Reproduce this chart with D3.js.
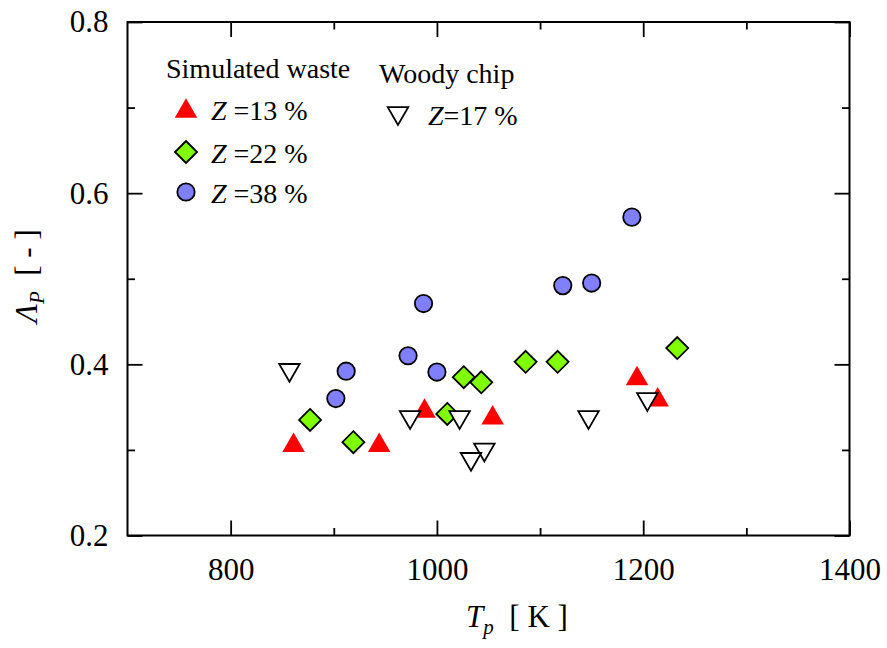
<!DOCTYPE html>
<html>
<head>
<meta charset="utf-8">
<script src="https://cdn.jsdelivr.net/npm/d3@7"></script>
<style>
  html, body { margin: 0; padding: 0; background: #fff; }
  svg { display: block; }
</style>
</head>
<body>
<svg id="chart" width="887" height="648"></svg>
<script>
// Particle temperature T_p [K] vs. Λ_P [-]
const wasteZ13T = [861, 944, 988, 1054, 1194, 1214];
const wasteZ13L = [0.309, 0.309, 0.349, 0.341, 0.387, 0.362];

const wasteZ22T = [877, 919, 1010, 1026, 1043, 1086, 1117, 1233];
const wasteZ22L = [0.335, 0.309, 0.342, 0.385, 0.379, 0.403, 0.403, 0.419];

const wasteZ38T = [902, 912, 972, 987, 1000, 1122, 1150, 1189];
const wasteZ38L = [0.360, 0.392, 0.410, 0.471, 0.391, 0.492, 0.495, 0.572];

const woodZ17T = [857, 974, 1022, 1046, 1033, 1147, 1204];
const woodZ17L = [0.390, 0.335, 0.335, 0.297, 0.286, 0.335, 0.356];

const xMajor = [800, 1000, 1200, 1400];
const xMinor = [900, 1100, 1300];
const yMajor = [0.2, 0.4, 0.6, 0.8];
const yMinor = [0.3, 0.5, 0.7];

const SERIF = "'Liberation Serif', 'Times New Roman', Tinos, 'DejaVu Serif', serif";

const svg = d3.select("#chart");
const plotL = 127.5, plotR = 849.5, plotT = 22, plotB = 535.5;

const x = d3.scaleLinear().domain([700, 1400]).range([plotL, plotR]);
const y = d3.scaleLinear().domain([0.2, 0.8]).range([plotB, plotT]);

// symbol shapes (centred on their bounding box)
function triUp(w) { const h = w * 0.866; return `M0,${-h/2}L${w/2},${h/2}L${-w/2},${h/2}Z`; }
function triDown(w) { const h = w * 0.866; return `M0,${h/2}L${w/2},${-h/2}L${-w/2},${-h/2}Z`; }
function diamond(r) { return `M0,${-r}L${r},0L0,${r}L${-r},0Z`; }

const series = [
  { T: wasteZ13T, L: wasteZ13L, d: triUp(22.5), fill: "#ff0000", stroke: "none" },
  { T: wasteZ22T, L: wasteZ22L, d: diamond(11), fill: "#80ff00", stroke: "#000" },
  { T: wasteZ38T, L: wasteZ38L, d: null, fill: "#8080ff", stroke: "#000" },
  { T: woodZ17T, L: woodZ17L, d: triDown(20.5), fill: "#fff", stroke: "#000" }
];

// axes: inward ticks on all four sides
const tickFont = 31;
function styleAxis(g) {
  g.attr("font-family", null).attr("font-size", null);
  g.select(".domain").remove();
  g.selectAll(".tick line").attr("stroke", "#000").attr("stroke-width", 1.8);
  g.selectAll("text").style("font-size", tickFont + "px")
    .style("font-family", SERIF).attr("fill", "#000");
}
const fmtY = d3.format(".1f");

svg.append("g").attr("transform", `translate(0,${plotB})`)
  .call(d3.axisBottom(x).tickValues(xMajor).tickSizeInner(-15).tickSizeOuter(0).tickPadding(22.5).tickFormat(d3.format("d")))
  .call(styleAxis);
svg.append("g").attr("transform", `translate(0,${plotB})`)
  .call(d3.axisBottom(x).tickValues(xMinor).tickSizeInner(-7.5).tickSizeOuter(0).tickFormat(""))
  .call(styleAxis);
svg.append("g").attr("transform", `translate(0,${plotT})`)
  .call(d3.axisTop(x).tickValues(xMajor).tickSizeInner(-15).tickSizeOuter(0).tickFormat(""))
  .call(styleAxis);
svg.append("g").attr("transform", `translate(0,${plotT})`)
  .call(d3.axisTop(x).tickValues(xMinor).tickSizeInner(-7.5).tickSizeOuter(0).tickFormat(""))
  .call(styleAxis);

svg.append("g").attr("transform", `translate(${plotL},0)`)
  .call(d3.axisLeft(y).tickValues(yMajor).tickSizeInner(-15).tickSizeOuter(0).tickPadding(19).tickFormat(fmtY))
  .call(styleAxis);
svg.append("g").attr("transform", `translate(${plotL},0)`)
  .call(d3.axisLeft(y).tickValues(yMinor).tickSizeInner(-7.5).tickSizeOuter(0).tickFormat(""))
  .call(styleAxis);
svg.append("g").attr("transform", `translate(${plotR},0)`)
  .call(d3.axisRight(y).tickValues(yMajor).tickSizeInner(-15).tickSizeOuter(0).tickFormat(""))
  .call(styleAxis);
svg.append("g").attr("transform", `translate(${plotR},0)`)
  .call(d3.axisRight(y).tickValues(yMinor).tickSizeInner(-7.5).tickSizeOuter(0).tickFormat(""))
  .call(styleAxis);

// frame
svg.append("rect")
  .attr("x", plotL).attr("y", plotT)
  .attr("width", plotR - plotL).attr("height", plotB - plotT)
  .attr("fill", "none").attr("stroke", "#000").attr("stroke-width", 2);

// data points
series.forEach(s => {
  const pts = s.T.map((t, i) => ({ t, l: s.L[i] }));
  const g = svg.append("g");
  if (s.d === null) {
    g.selectAll("circle").data(pts).join("circle")
      .attr("cx", p => x(p.t)).attr("cy", p => y(p.l)).attr("r", 8.7)
      .attr("fill", s.fill).attr("stroke", s.stroke).attr("stroke-width", 1.8);
  } else {
    g.selectAll("path").data(pts).join("path")
      .attr("d", s.d)
      .attr("transform", p => `translate(${x(p.t)},${y(p.l)})`)
      .attr("fill", s.fill).attr("stroke", s.stroke).attr("stroke-width", 1.8)
      .attr("stroke-linejoin", "miter");
  }
});

function label(xp, yp, size) {
  return svg.append("text").attr("x", xp).attr("y", yp)
    .style("font-family", SERIF).style("font-size", size + "px").attr("fill", "#000")
    .attr("xml:space", "preserve");
}

// legend
const legFont = 28;
label(166, 78, legFont).text("Simulated waste");
label(379, 83, legFont).text("Woody chip");

const legendRows = [
  { s: series[0], mx: 186, my: 108, tx: 211, ty: 120, z: " =13 %" },
  { s: series[1], mx: 186, my: 152, tx: 211, ty: 163, z: " =22 %" },
  { s: series[2], mx: 186, my: 192, tx: 211, ty: 203, z: " =38 %" },
  { s: series[3], mx: 398, my: 116, tx: 428, ty: 125, z: "=17 %" }
];
legendRows.forEach(r => {
  if (r.s.d === null) {
    svg.append("circle").attr("cx", r.mx).attr("cy", r.my).attr("r", 8.7)
      .attr("fill", r.s.fill).attr("stroke", r.s.stroke).attr("stroke-width", 1.8);
  } else {
    svg.append("path").attr("d", r.s.d).attr("transform", `translate(${r.mx},${r.my})`)
      .attr("fill", r.s.fill).attr("stroke", r.s.stroke).attr("stroke-width", 1.8);
  }
  const t = label(r.tx, r.ty, legFont);
  t.append("tspan").style("font-style", "italic").text("Z");
  t.append("tspan").text(r.z);
});

// axis titles
const xt = label(517, 627, 31).attr("text-anchor", "middle");
xt.append("tspan").style("font-style", "italic").text("T");
xt.append("tspan").style("font-style", "italic").style("font-size", "21px").attr("dy", 7).text("p");
xt.append("tspan").attr("dy", -7).text("  [ K ]");

const yt = label(0, 0, 31).attr("transform", "translate(37,276) rotate(-90)").attr("text-anchor", "middle");
yt.append("tspan").style("font-style", "italic").text("Λ");
yt.append("tspan").style("font-style", "italic").style("font-size", "21px").attr("dy", 7).text("P");
yt.append("tspan").attr("dy", -7).text("  [ - ]");
</script>
</body>
</html>
